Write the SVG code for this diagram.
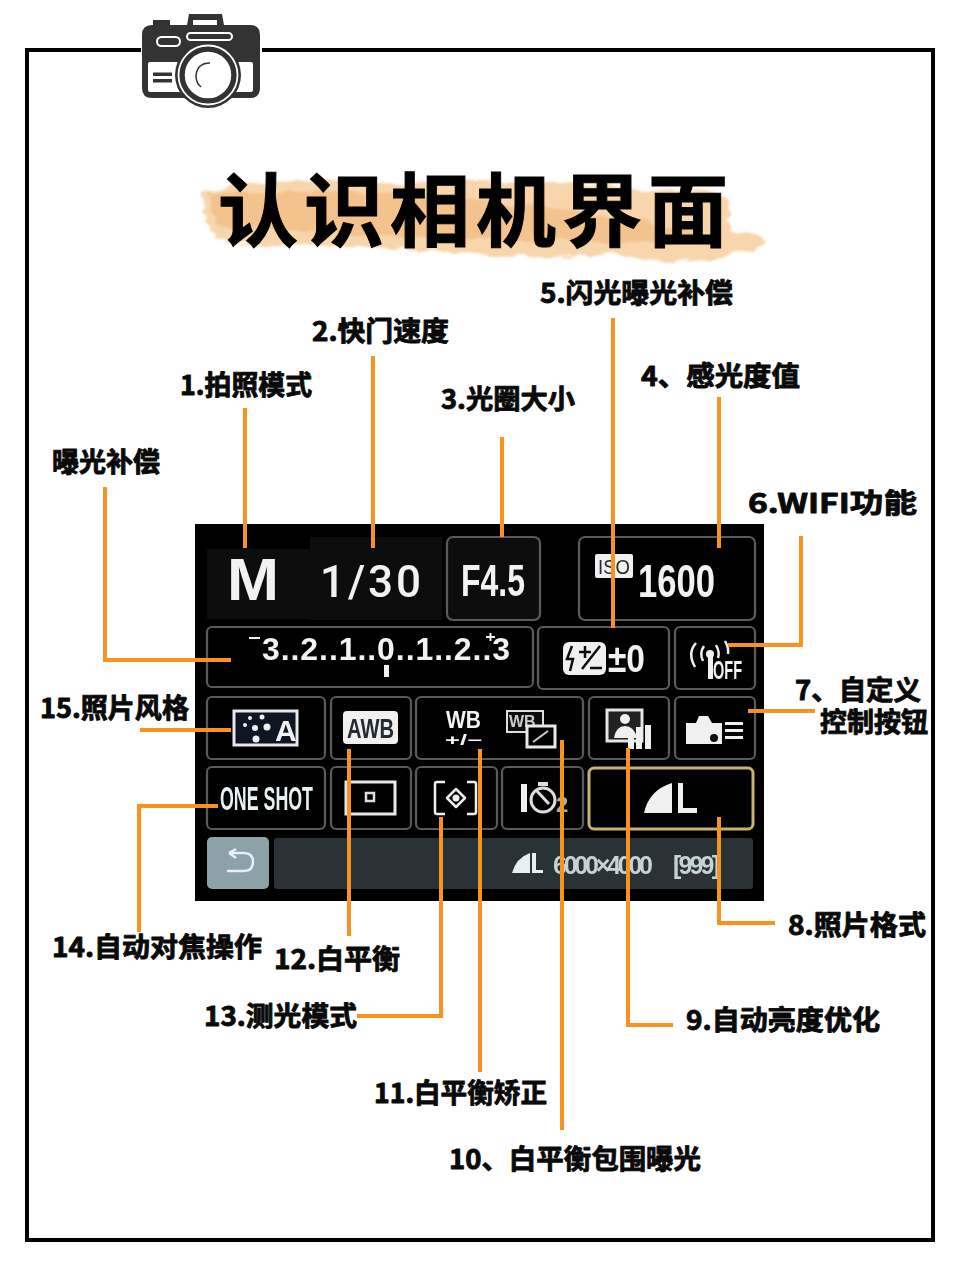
<svg xmlns="http://www.w3.org/2000/svg" width="960" height="1280" viewBox="0 0 960 1280">
<defs>
<filter id="soft" x="-2%" y="-2%" width="104%" height="104%"><feGaussianBlur stdDeviation="0.6"/></filter>
<filter id="brush" x="-5%" y="-20%" width="110%" height="140%"><feTurbulence type="fractalNoise" baseFrequency="0.035 0.09" numOctaves="3" seed="4"/><feDisplacementMap in="SourceGraphic" scale="14" xChannelSelector="R" yChannelSelector="G"/><feGaussianBlur stdDeviation="1.2"/></filter>
</defs>
<style>
.cell{fill:#000;stroke:#5a5a5a;stroke-width:2.2}
.w{fill:#f2f2f2;font-family:"Liberation Sans",Arial,sans-serif}
.n{font-family:"Liberation Sans Narrow","Liberation Sans",Arial,sans-serif}
.b{font-weight:700}
.d{fill:#232a33;font-family:"Liberation Sans",Arial,sans-serif;font-weight:700}
.icon{fill:none;stroke:#efefef;stroke-width:2.5}
.solid{fill:#f0f0f0}
.lab{fill:#0a0a0a;stroke:#0a0a0a;stroke-width:.9;stroke-linejoin:round;font-family:"Noto Sans CJK SC","Liberation Sans",sans-serif;font-weight:700;font-size:27px}
.ttl{fill:#000;stroke:#000;stroke-width:1;font-family:"Noto Sans CJK SC",sans-serif;font-weight:700;font-size:80px}
.con{fill:none;stroke:#f7931e;stroke-width:4}
.cam{fill:#333}
</style>
<rect width="960" height="1280" fill="#fff"/>
<g id="frame" fill="none" stroke="#000" stroke-width="4">
<path d="M141 50H27V1240H933V50H262"/>
</g>
<g id="camera-icon">
<path class="cam" d="M187 25 189 14H222L224 25H250Q260 25 260 35V88Q260 98 250 98H152Q142 98 142 88V35Q142 25 152 25H153V20H170V25Z"/>
<rect x="193" y="20" width="24" height="5" fill="#fff"/>
<rect x="148" y="62" width="105" height="30" rx="2" fill="#fff"/>
<rect x="157" y="37" width="23" height="9" rx="4.500" fill="#333" stroke="#fff" stroke-width="2"/>
<rect x="187" y="33" width="45" height="7" rx="3.500" fill="#333" stroke="#fff" stroke-width="2"/>
<rect x="153" y="72.500" width="19" height="3.500" fill="#333"/><rect x="153" y="79" width="19" height="3.500" fill="#333"/>
<circle cx="208" cy="75" r="33" fill="#333"/>
<circle cx="208" cy="75" r="29.500" fill="none" stroke="#fff" stroke-width="1.800"/>
<circle cx="208" cy="75" r="25" fill="#fff" stroke="#333" stroke-width="3.500"/>
<path d="M210 63Q197 63 196 76Q196 83 201 87" fill="none" stroke="#333" stroke-width="1.500"/>
</g>
<g id="title">
<g filter="url(#brush)">
<path d="M204 192 C260 178 330 184 400 182 C470 178 560 184 620 188 C670 192 715 190 726 200 L730 232 C745 232 762 236 763 242 C740 250 735 258 715 259 C660 262 610 252 560 256 C480 258 420 248 340 246 C290 246 240 246 218 240 C210 225 198 215 204 192Z" fill="#f8d5ab"/>
<path d="M208 194C300 186 430 196 540 206C620 216 680 226 722 242C620 244 500 240 400 236C320 232 240 232 216 222Z" fill="#f2b678" opacity=".6"/>
</g>
<text class="ttl" x="218" y="240" textLength="510" lengthAdjust="spacing">认识相机界面</text>
</g>
<g id="screen-ui" filter="url(#soft)">
<g id="screen">
<rect x="195" y="524" width="569" height="377" fill="#000"/>
<rect x="207" y="549" width="103" height="70" fill="#111"/>
<rect x="310" y="537" width="132" height="83" fill="#111"/>
</g>
<g id="mode"><text class="w b" x="227" y="600" font-size="60" textLength="52" lengthAdjust="spacingAndGlyphs">M</text></g>
<g id="shutter"><text class="w" x="320" y="597" font-size="44" font-weight="500" textLength="101" lengthAdjust="spacing" style="font-family:Roboto,sans-serif">1/30</text></g>
<g id="aperture"><rect class="cell" x="447" y="537" width="93" height="83" rx="6" style="fill:#111"/><text class="w n b" x="461" y="596" font-size="44" textLength="64" lengthAdjust="spacingAndGlyphs">F4.5</text></g>
<g id="iso"><rect class="cell" x="579" y="537" width="176" height="83" rx="6"/><rect x="595" y="554" width="38" height="24" rx="2" class="solid"/><text class="d" x="598" y="574" font-size="20" textLength="32" lengthAdjust="spacingAndGlyphs" style="font-weight:400">ISO</text><text class="w n b" x="638" y="597" font-size="46" textLength="77" lengthAdjust="spacingAndGlyphs">1600</text></g>
<g id="exposure"><rect class="cell" x="207" y="627" width="326" height="60" rx="5"/><rect x="249" y="637" width="11" height="2" class="solid"/><text class="w n b" x="262" y="660" font-size="32" textLength="248" lengthAdjust="spacing">3..2..1..0..1..2..3</text><path d="M486 637H495M490.500 633V641" stroke="#f0f0f0" stroke-width="2" fill="none"/><rect x="384" y="665" width="5" height="12" class="solid"/></g>
<g id="flash"><rect class="cell" x="538" y="627" width="131" height="62" rx="5"/><rect x="563" y="642" width="43" height="33" rx="6" class="solid"/><path d="M572 646 567 659H573L570 671" fill="none" stroke="#111" stroke-width="2.500"/><path d="M582 669 600 646M579 652H591M585 646V658M590 668H602" stroke="#111" stroke-width="2.500" fill="none"/><text class="w n b" x="608" y="672" font-size="38" textLength="37" lengthAdjust="spacingAndGlyphs">±0</text></g>
<g id="wifi"><rect class="cell" x="675" y="627" width="80" height="62" rx="5"/><path class="icon" d="M696 643Q687 653 695 667M704 646Q699 653 703 661M716 645Q720 652 718 658M725 641Q729 648 728 654"/><circle cx="710" cy="654" r="4" class="solid"/><rect x="708" y="654" width="5" height="25" class="solid"/><text class="w n b" x="713" y="679" font-size="26" textLength="29" lengthAdjust="spacingAndGlyphs">OFF</text></g>
<g id="style"><rect class="cell" x="207" y="697" width="118" height="62" rx="5"/><rect x="234" y="711" width="63" height="34" fill="#0c1420" stroke="#e8e8e8" stroke-width="3"/><g class="solid"><circle cx="250" cy="718" r="2"/><circle cx="262" cy="717" r="2.500"/><circle cx="255" cy="728" r="3"/><circle cx="267" cy="727" r="3.500"/><circle cx="256" cy="739" r="3.500"/><circle cx="245" cy="725" r="2"/></g><text class="w b" x="275" y="741" font-size="30">A</text></g>
<g id="wb"><rect class="cell" x="331" y="697" width="80" height="62" rx="5"/><rect x="343" y="711" width="55" height="33" rx="4" class="solid"/><text class="d" x="347" y="738" font-size="27" textLength="47" lengthAdjust="spacingAndGlyphs">AWB</text></g>
<g id="wb-correct"><rect class="cell" x="416" y="697" width="167" height="62" rx="5"/><text class="w b" x="446" y="728" font-size="23" textLength="35" lengthAdjust="spacingAndGlyphs">WB</text><text class="w b" x="445" y="745" font-size="14" textLength="37" lengthAdjust="spacingAndGlyphs">+/−</text></g>
<g id="wb-bracket"><rect x="507" y="711" width="36" height="21" fill="#111" stroke="#ddd" stroke-width="2"/><text class="w b" x="509" y="727" font-size="16" style="fill:#ccc">WB</text><rect x="527" y="726" width="28" height="21" fill="#000" stroke="#e8e8e8" stroke-width="3"/><path d="M533 742 548 731" stroke="#ccc" stroke-width="2"/></g>
<g id="auto-lighting"><rect class="cell" x="589" y="697" width="80" height="62" rx="5"/><rect x="607" y="710" width="35" height="31" fill="#222" stroke="#e4e4e4" stroke-width="3"/><circle cx="625" cy="719" r="5" class="solid"/><path class="solid" d="M614 738Q616 726 625 726Q634 726 637 738Z"/><rect x="628" y="737" width="6" height="12" class="solid"/><rect x="636" y="727" width="6" height="22" class="solid"/><rect x="645" y="725" width="6" height="24" class="solid"/></g>
<g id="custom"><rect class="cell" x="675" y="697" width="80" height="62" rx="5"/><path class="solid" d="M686 723H696L699 716H708L712 723H722V744H686Z"/><circle cx="714" cy="738" r="4" fill="#111"/><rect x="725" y="722" width="18" height="3" class="solid"/><rect x="725" y="729" width="18" height="3" class="solid"/><rect x="725" y="736" width="18" height="3" class="solid"/></g>
<g id="af"><rect class="cell" x="207" y="767" width="118" height="62" rx="5"/><text class="w n b" x="220" y="810" font-size="34" textLength="93" lengthAdjust="spacingAndGlyphs" style="fill:#e6f2f2">ONE SHOT</text></g>
<g id="af-area"><rect class="cell" x="331" y="767" width="80" height="62" rx="5"/><rect x="346" y="782" width="49" height="32" fill="none" stroke="#e8e8e8" stroke-width="3"/><rect x="366" y="793" width="8" height="8" fill="none" stroke="#ddd" stroke-width="2.500"/></g>
<g id="metering"><rect class="cell" x="416" y="767" width="81" height="62" rx="5"/><path class="icon" d="M445 782H437Q435 782 435 784V812Q435 814 437 814H445M467 782H474Q476 782 476 784V812Q476 814 474 814H467" stroke-width="3"/><path class="icon" d="M447 798 456 789 465 798 456 807Z" stroke-linejoin="round"/><circle cx="456" cy="798" r="3.500" class="solid"/></g>
<g id="drive"><rect class="cell" x="502" y="767" width="81" height="62" rx="5"/><rect x="521" y="784" width="6" height="28" class="solid"/><circle cx="543" cy="800" r="12" fill="none" stroke="#ddd" stroke-width="3"/><rect x="538" y="782" width="10" height="4" fill="#ddd"/><path d="M536 790 549 804" stroke="#ddd" stroke-width="3"/><text class="w b" x="556" y="812" font-size="22" style="fill:#aaa">2</text></g>
<g id="quality"><rect x="589" y="768" width="164" height="61" rx="5" fill="#000" stroke="#c9b26e" stroke-width="3"/><path class="solid" d="M644 813Q649 790 672 783V813Z"/><path class="solid" d="M678 783H683V808H697V813H678Z"/></g>
<g id="back"><rect x="207" y="837" width="62" height="52" rx="5" fill="#8ba3a8"/><path d="M229 851 H244 Q253 851 253 860 Q253 869 244 869 H227M229 851 L236 847M229 851 L236 856" fill="none" stroke="#e6f0f0" stroke-width="2.500" transform="translate(0,2)"/></g>
<g id="status"><rect x="274" y="838" width="479" height="51" rx="3" fill="#2b3234"/><path d="M512 873Q516 858 530 853V873Z" fill="#e6f0f0"/><path d="M532 853H536V870H543V873H532Z" fill="#e6f0f0"/><text class="n b" y="874" font-size="25" fill="#c5d3d8"><tspan x="553" y="874" textLength="100" lengthAdjust="spacing">6000×4000</tspan><tspan x="673" y="874" textLength="47" lengthAdjust="spacing">[999]</tspan></text></g>
</g>
<g id="connectors">
<path class="con" d="M245 408V548"/>
<path class="con" d="M373 356V548"/>
<path class="con" d="M502 437V537"/>
<path class="con" d="M613 318V628"/>
<path class="con" d="M719 397V548"/>
<path class="con" d="M801 536V645H728"/>
<path class="con" d="M105 487V660H231"/>
<path class="con" d="M748 711H815"/>
<path class="con" d="M140 730H231"/>
<path class="con" d="M218 806H139V932"/>
<path class="con" d="M349 749V936"/>
<path class="con" d="M441 817V1016H357"/>
<path class="con" d="M480 749V1072"/>
<path class="con" d="M562 740V1130"/>
<path class="con" d="M628 748V1025H673"/>
<path class="con" d="M719 817V923H775"/>
</g>
<g id="label-exp"><text class="lab" x="52" y="472" textLength="108" lengthAdjust="spacingAndGlyphs">曝光补偿</text></g>
<g id="label-1"><text class="lab" x="180" y="395" textLength="132" lengthAdjust="spacingAndGlyphs">1.拍照模式</text></g>
<g id="label-2"><text class="lab" x="312" y="341" textLength="137" lengthAdjust="spacingAndGlyphs">2.快门速度</text></g>
<g id="label-3"><text class="lab" x="441" y="409" textLength="134" lengthAdjust="spacingAndGlyphs">3.光圈大小</text></g>
<g id="label-5"><text class="lab" x="540" y="303" textLength="193" lengthAdjust="spacingAndGlyphs">5.闪光曝光补偿</text></g>
<g id="label-4"><text class="lab" x="641" y="386" textLength="159" lengthAdjust="spacingAndGlyphs">4、感光度值</text></g>
<g id="label-6"><text class="lab" x="748" y="513" textLength="169" lengthAdjust="spacingAndGlyphs">6.WIFI功能</text></g>
<g id="label-7"><text class="lab"><tspan x="795" y="700" textLength="126" lengthAdjust="spacingAndGlyphs">7、自定义</tspan><tspan x="820" y="732" textLength="108" lengthAdjust="spacingAndGlyphs">控制按钮</tspan></text></g>
<g id="label-15"><text class="lab" x="40" y="718" textLength="149" lengthAdjust="spacingAndGlyphs">15.照片风格</text></g>
<g id="label-14"><text class="lab" x="52" y="957" textLength="210" lengthAdjust="spacingAndGlyphs">14.自动对焦操作</text></g>
<g id="label-12"><text class="lab" x="274" y="969" textLength="126" lengthAdjust="spacingAndGlyphs">12.白平衡</text></g>
<g id="label-13"><text class="lab" x="204" y="1026" textLength="153" lengthAdjust="spacingAndGlyphs">13.测光模式</text></g>
<g id="label-11"><text class="lab" x="374" y="1103" textLength="173" lengthAdjust="spacingAndGlyphs">11.白平衡矫正</text></g>
<g id="label-10"><text class="lab" x="449" y="1169" textLength="252" lengthAdjust="spacingAndGlyphs">10、白平衡包围曝光</text></g>
<g id="label-9"><text class="lab" x="686" y="1030" textLength="194" lengthAdjust="spacingAndGlyphs">9.自动亮度优化</text></g>
<g id="label-8"><text class="lab" x="788" y="935" textLength="138" lengthAdjust="spacingAndGlyphs">8.照片格式</text></g>
</svg>
